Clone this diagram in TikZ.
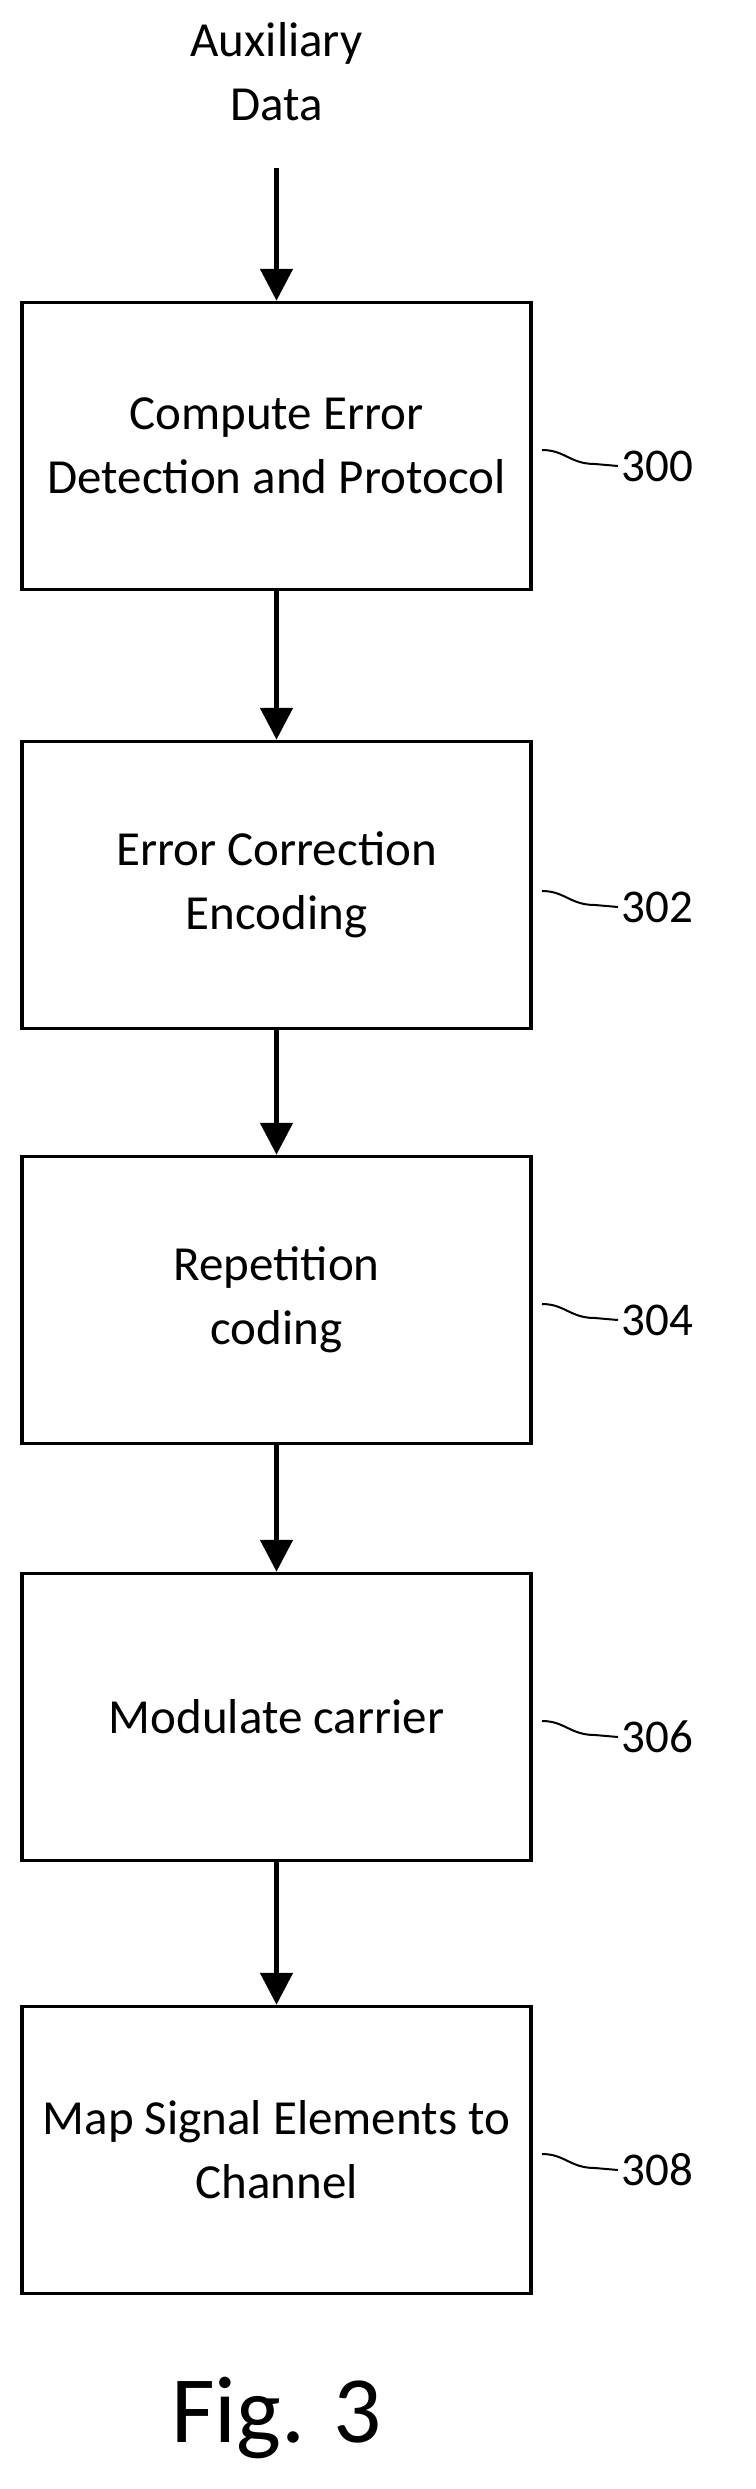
\documentclass[tikz,border=0pt]{standalone}
\usepackage{fontspec}
\setmainfont{Carlito}
\usetikzlibrary{arrows.meta}
\begin{document}
\begin{tikzpicture}[x=1pt,y=-1pt,
  box/.style={draw,line width=3.5pt,minimum width=509pt,minimum height=287pt,align=center,font=\fontsize{49}{64}\selectfont},
  arr/.style={line width=5pt,-{Triangle[length=32pt,width=32pt]}},
  lab/.style={font=\fontsize{47}{50}\selectfont,anchor=west},
  sq/.style={line width=2pt}]
\useasboundingbox (0,0) rectangle (755,2489);
\node[font=\fontsize{49}{64}\selectfont,align=center] (aux) at (276.5,72) {Auxiliary\\Data};
\node[box] (b0) at (276.5,446) {Compute Error\\Detection and Protocol};
\node[box] (b1) at (276.5,885) {Error Correction\\Encoding};
\node[box] (b2) at (276.5,1300) {Repetition\\coding};
\node[box] (b3) at (276.5,1717) {Modulate carrier};
\node[box] (b4) at (276.5,2150) {Map Signal Elements to\\Channel};
\node[font=\fontsize{95}{100}\selectfont] (fig) at (276.5,2418) {Fig. 3};
\draw[arr] (276.5,168) -- (b0.north);
\draw[arr] (b0.south) -- (b1.north);
\draw[arr] (b1.south) -- (b2.north);
\draw[arr] (b2.south) -- (b3.north);
\draw[arr] (b3.south) -- (b4.north);
\foreach \b/\t/\y in {b0/300/466, b1/302/907, b2/304/1320, b3/306/1737, b4/308/2170}{
  \node[lab] (l\t) at (618,\y) {\t};
  \coordinate (s\t) at (542,\y-16);
  \draw[sq] (s\t) .. controls (565,\y-16) and (570,\y-2) .. (595,\y-2) -- (l\t.west);
}
\end{tikzpicture}
\end{document}
